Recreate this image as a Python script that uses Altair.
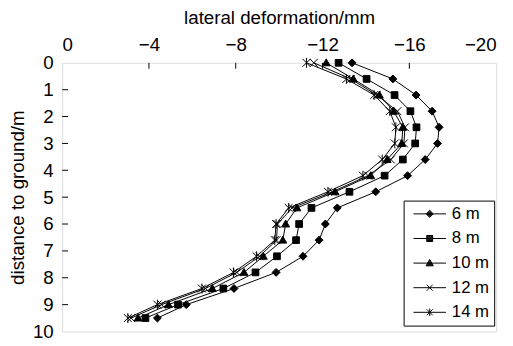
import altair as alt
import pandas as pd

# ---- data ----
depth = [0, 0.6, 1.2, 1.8, 2.4, 3.0, 3.6, 4.2, 4.8, 5.4, 6.0, 6.6, 7.2, 7.8, 8.4, 9.0, 9.5]
s6 = [-13.36, -15.24, -16.31, -17.05, -17.37, -17.30, -16.73, -15.92, -14.45, -12.68, -12.13, -11.84, -11.10, -9.86, -7.92, -5.72, -4.39]
s8 = [-12.74, -14.03, -15.32, -16.05, -16.33, -16.27, -15.70, -14.86, -13.24, -11.49, -10.92, -10.78, -9.90, -8.91, -7.43, -5.34, -3.84]
s10 = [-12.17, -13.42, -14.62, -15.28, -15.70, -15.65, -14.98, -14.22, -12.58, -10.82, -10.30, -10.17, -9.27, -8.38, -6.92, -4.90, -3.50]
s12 = [-11.60, -13.30, -14.50, -15.45, -15.80, -15.75, -15.15, -14.10, -12.45, -10.60, -9.92, -9.88, -9.10, -8.05, -6.60, -4.58, -3.18]
s14 = [-11.26, -13.10, -14.38, -15.10, -15.38, -15.33, -14.75, -13.86, -12.25, -10.44, -9.86, -9.80, -8.96, -7.90, -6.44, -4.39, -3.03]
series_names = ["6 m", "8 m", "10 m", "12 m", "14 m"]
x_ticks = [0, -4, -8, -12, -16, -20]
y_ticks = [0, 1, 2, 3, 4, 5, 6, 7, 8, 9, 10]
x_inner_ticks = [-4, -8, -12, -16]
y_inner_ticks = [1, 2, 3, 4, 5, 6, 7, 8, 9]

rows = []
for name, vals in zip(series_names, [s6, s8, s10, s12, s14]):
    for d, v in zip(depth, vals):
        rows.append({"series": name, "depth": d, "deform": v})
df = pd.DataFrame(rows)

FONT = "Liberation Sans"

# ---- marker paths (style only) ----
plot_shapes = [
    "M0,-1L1,0L0,1L-1,0Z",
    "M-0.85,-0.85L0.85,-0.85L0.85,0.85L-0.85,0.85Z",
    "M0,-1L1,0.75L-1,0.75Z",
    "M-1,-1L1,1M-1,1L1,-1",
    "M-1,-1L1,1M-1,1L1,-1M0,-1.25L0,1.25",
]

# legend symbols: a horizontal line with a (hatch-filled) marker; unit = 6 px
U = 6.0
LINE = "M-2.75,0L2.75,0"


def f(v):
    return f"{v:.3f}"


def hatch(halfwidth_at, y0, y1, step=0.14):
    parts = []
    y = y0
    while y <= y1 + 1e-9:
        w = halfwidth_at(y)
        if w > 0:
            parts.append(f"M{f(-w)},{f(y)}L{f(w)},{f(y)}")
        y += step
    return "".join(parts)


hd = 3.6 / U
diamond_leg = LINE + f"M0,{f(-hd)}L{f(hd)},0L0,{f(hd)}L{f(-hd)},0Z" + hatch(lambda y: hd - abs(y) - 0.05, -hd, hd)
hs = 3.0 / U
square_leg = LINE + f"M{f(-hs)},{f(-hs)}L{f(hs)},{f(-hs)}L{f(hs)},{f(hs)}L{f(-hs)},{f(hs)}Z" + hatch(lambda y: hs, -hs, hs)
ht = 3.7 / U
tri_leg = LINE + f"M0,{f(-ht)}L{f(ht)},{f(0.75 * ht)}L{f(-ht)},{f(0.75 * ht)}Z" + hatch(
    lambda y: ht * (y + ht) / (1.75 * ht) - 0.04, -ht, 0.75 * ht)
hx = 3.0 / U
x_leg = LINE + f"M{f(-hx)},{f(-hx)}L{f(hx)},{f(hx)}M{f(-hx)},{f(hx)}L{f(hx)},{f(-hx)}"
star_leg = x_leg + f"M0,{f(-hx * 1.25)}L0,{f(hx * 1.25)}"
legend_shapes = [diamond_leg, square_leg, tri_leg, x_leg, star_leg]

xscale = alt.Scale(domain=[-20, 0], reverse=True, nice=False, zero=False)
yscale = alt.Scale(domain=[0, 10], reverse=True, nice=False, zero=False)

xaxis = alt.Axis(orient="top", values=x_ticks, format="d", title="lateral deformation/mm",
                 ticks=False, tickSize=0, domain=False, grid=False, labelPadding=9,
                 titlePadding=8, labelFontSize=19, titleFontSize=19, labelFont=FONT,
                 titleFont=FONT, titleFontWeight="normal", labelColor="black", titleColor="black")
yaxis = alt.Axis(orient="left", values=y_ticks, format="d", title="distance to ground/m",
                 ticks=False, tickSize=0, domain=False, grid=False, labelPadding=9,
                 titlePadding=5, labelFontSize=19, titleFontSize=19, labelFont=FONT,
                 titleFont=FONT, titleFontWeight="normal", labelColor="black", titleColor="black")

X = alt.X("deform:Q", scale=xscale, axis=xaxis)
Y = alt.Y("depth:Q", scale=yscale, axis=yaxis)

base = alt.Chart(df)

lines = base.mark_line(color="black", strokeWidth=1).encode(
    x=X, y=Y, detail="series:N", order="depth:Q",
)

points = base.mark_point(fill="black", stroke="black", strokeWidth=1, opacity=1, size=64).encode(
    x=X, y=Y,
    shape=alt.Shape("series:N", scale=alt.Scale(domain=series_names, range=plot_shapes), legend=None),
)

legend_layer = base.transform_filter("datum.depth < 0").mark_point(
    filled=False, color="black", strokeWidth=1, opacity=1
).encode(
    x=X, y=Y,
    shape=alt.Shape("series:N", scale=alt.Scale(domain=series_names, range=legend_shapes),
                    legend=alt.Legend(title=None, orient="none", legendX=347, legendY=140,
                                      symbolSize=U * U * 4, symbolStrokeWidth=1,
                                      symbolOffset=13, labelFontSize=17, labelFont=FONT,
                                      labelColor="black", labelOffset=14, rowPadding=7,
                                      padding=5, strokeColor="black", fillColor="white",
                                      cornerRadius=0)),
)

xt = pd.DataFrame({"deform": x_inner_ticks})
yt = pd.DataFrame({"depth": y_inner_ticks})
xtick_layer = alt.Chart(xt).mark_rule(color="black", strokeWidth=1).encode(
    x=X, y=alt.value(0), y2=alt.value(6))
ytick_layer = alt.Chart(yt).mark_rule(color="black", strokeWidth=1).encode(
    y=Y, x=alt.value(0), x2=alt.value(6))

chart = alt.layer(lines, points, legend_layer, xtick_layer, ytick_layer).resolve_scale(
    shape="independent"
).properties(
    width=441, height=273,
    autosize=alt.AutoSizeParams(type="none"),
    padding={"left": 55, "top": 53, "right": 9, "bottom": 10},
).configure_view(stroke="black", strokeWidth=2).configure(background="white")

chart.save("out.html", embed_options={"renderer": "svg", "actions": False})
